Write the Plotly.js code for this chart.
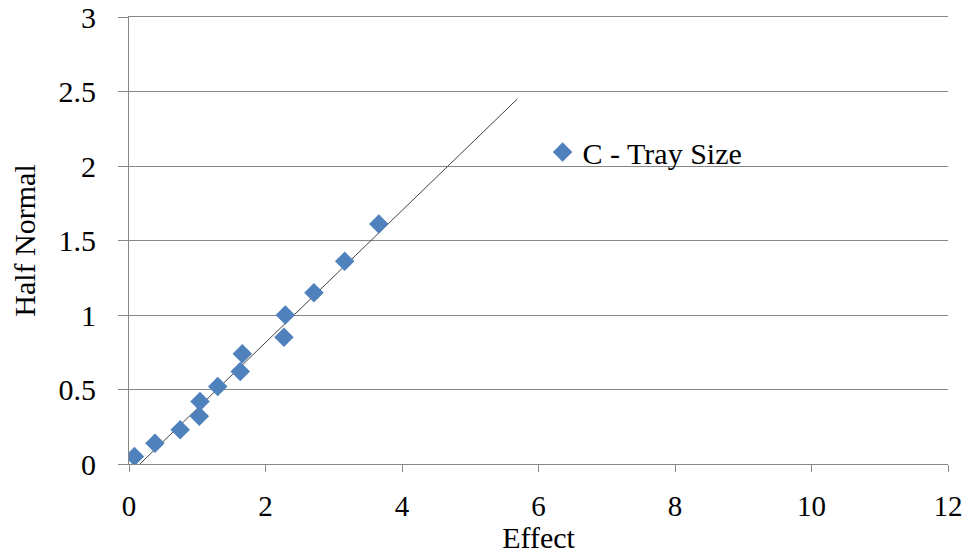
<!DOCTYPE html>
<html>
<head>
<meta charset="utf-8">
<script src="https://cdn.plot.ly/plotly-3.0.1.min.js"></script>
<style>html,body{margin:0;padding:0;background:#fff;}#chart{width:968px;height:554px;}</style>
</head>
<body>
<div id="chart"></div>
<script>
// Data
const effect = [0.08, 0.38, 0.75, 1.03, 1.04, 1.30, 1.63, 1.66, 2.27, 2.29, 2.71, 3.16, 3.66];
const halfNormal = [0.05, 0.14, 0.23, 0.32, 0.42, 0.52, 0.62, 0.74, 0.85, 1.00, 1.15, 1.36, 1.61];
const fitX = [0.16, 5.69];
const fitY = [0.0, 2.45];
const seriesName = 'C - Tray Size';
const xTicks = [0, 2, 4, 6, 8, 10, 12];
const yTicks = [0, 0.5, 1, 1.5, 2, 2.5, 3];

const font = 'Liberation Serif, Times New Roman, serif';

const traces = [
  {
    x: fitX, y: fitY, mode: 'lines', type: 'scatter',
    line: {color: '#404040', width: 1}, showlegend: false, hoverinfo: 'skip'
  },
  {
    x: effect, y: halfNormal, mode: 'markers', type: 'scatter', name: seriesName,
    marker: {symbol: 'diamond', size: 15, color: '#4F81BD'}
  }
];

const layout = {
  width: 968, height: 554,
  margin: {l: 129, r: 20, t: 17, b: 90},
  paper_bgcolor: '#fff', plot_bgcolor: '#fff',
  font: {family: font, size: 30, color: '#000'},
  showlegend: true,
  legend: {x: 0.505, y: 0.698, xanchor: 'left', yanchor: 'middle',
           font: {family: font, size: 30, color: '#000'}, bgcolor: 'rgba(0,0,0,0)'},
  xaxis: {
    range: [0, 12], tickvals: xTicks, ticktext: xTicks.map(String),
    showgrid: false, zeroline: false, automargin: 'bottom',
    showline: true, linecolor: '#868686', linewidth: 1, mirror: true,
    ticks: 'outside', ticklen: 7, tickcolor: '#868686',
    ticklabelstandoff: 9,
    tickfont: {family: font, size: 29},
    title: {text: 'Effect', font: {family: font, size: 30}, standoff: 0}
  },
  yaxis: {
    range: [0, 3], tickvals: yTicks, ticktext: yTicks.map(String),
    showgrid: true, gridcolor: '#868686', gridwidth: 1, zeroline: false,
    showline: true, linecolor: '#868686', linewidth: 1,
    ticks: 'outside', ticklen: 10, tickcolor: '#868686',
    ticklabelstandoff: 16,
    tickfont: {family: font, size: 30},
    title: {text: 'Half Normal', font: {family: font, size: 30}, standoff: 14}
  }
};

Plotly.newPlot('chart', traces, layout, {displayModeBar: false, staticPlot: true});
</script>
</body>
</html>
